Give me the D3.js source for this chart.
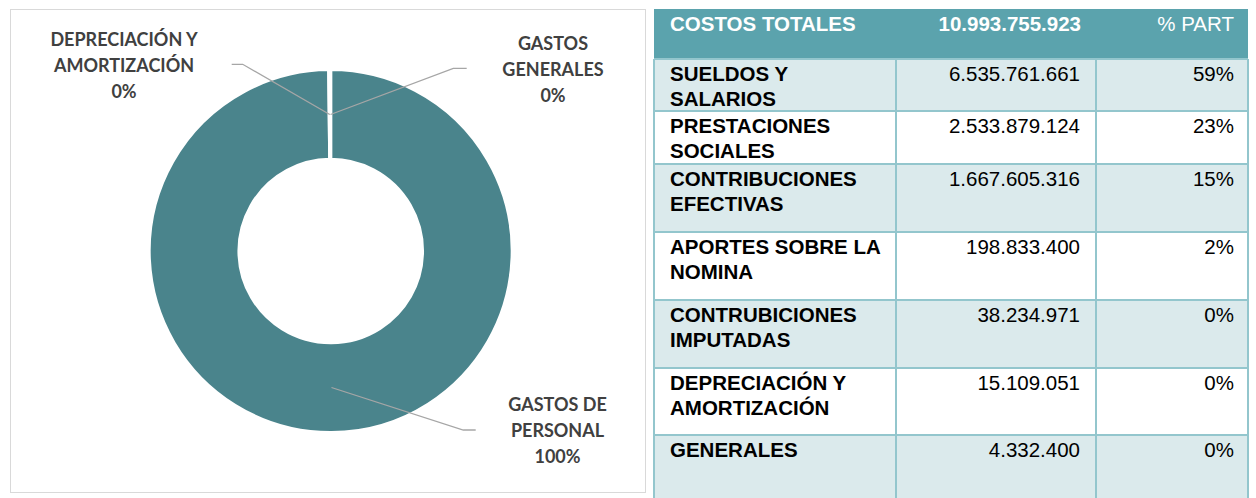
<!DOCTYPE html>
<html>
<head>
<meta charset="utf-8">
<script src="https://cdn.jsdelivr.net/npm/d3@7"></script>
<style>
  body { margin: 0; background: #fff; }
</style>
</head>
<body>
<svg id="chart" width="1256" height="498"></svg>
<script>
// donut data
const donutCategories = ["GASTOS DE PERSONAL", "DEPRECIACIÓN Y AMORTIZACIÓN", "GASTOS GENERALES"];
const donutLabelLines = [["GASTOS DE", "PERSONAL"], ["DEPRECIACIÓN Y", "AMORTIZACIÓN"], ["GASTOS", "GENERALES"]];
const donutValues = [10974314472, 15109051, 4332400];

// table data
const tableHeader = ["COSTOS TOTALES", "% PART"];
const costLabelLines = [
  ["SUELDOS Y", "SALARIOS"],
  ["PRESTACIONES", "SOCIALES"],
  ["CONTRIBUCIONES", "EFECTIVAS"],
  ["APORTES SOBRE LA", "NOMINA"],
  ["CONTRUBICIONES", "IMPUTADAS"],
  ["DEPRECIACIÓN Y", "AMORTIZACIÓN"],
  ["GENERALES"]
];
const costValues = [6535761661, 2533879124, 1667605316, 198833400, 38234971, 15109051, 4332400];

const svg = d3.select("#chart");

// es-CO style numbers: 10.993.755.923
const loc = d3.formatLocale({ decimal: ",", thousands: ".", grouping: [3], currency: ["$", ""] });
const fmtNum = loc.format(",d");
const fmtPct = v => Math.round(v * 100) + "%";

// ---------------- donut ----------------
const teal = "#4a848c";
svg.append("rect")
  .attr("x", 10.5).attr("y", 9.5)
  .attr("width", 635).attr("height", 483)
  .attr("fill", "#fff")
  .attr("stroke", "#d9d9d9")
  .attr("stroke-width", 1);

const cx = 330.7, cy = 251;
const outerR = 181.5, innerR = 91.8;

const donutData = donutCategories.map((c, i) => ({ key: c, lines: donutLabelLines[i], value: donutValues[i] }));
const donutTotal = d3.sum(donutValues);

const pie = d3.pie().sort(null).value(d => d.value);
const arc = d3.arc().innerRadius(innerR).outerRadius(outerR);
const midArc = d3.arc().innerRadius(136.5).outerRadius(136.5);

const g = svg.append("g").attr("transform", `translate(${cx},${cy})`);
const slices = pie(donutData);

g.selectAll(".slice")
  .data(slices)
  .join("path")
  .attr("class", "slice")
  .attr("d", arc)
  .attr("fill", teal)
  .attr("stroke", "#fff")
  .attr("stroke-width", 3);

// label placement relative to centre (elbow x, y, end x, text centre x, first baseline)
const labelPos = {
  "GASTOS DE PERSONAL": { ex: 132.6, ey: 179, tx: 145, cx: 226.8, by: 160 },
  "DEPRECIACIÓN Y AMORTIZACIÓN": { ex: -88, ey: -186.7, tx: -99, cx: -206.7, by: -205 },
  "GASTOS GENERALES": { ex: 122.6, ey: -182.7, tx: 136, cx: 222.3, by: -201 }
};
const lineH = 26;

const line = d3.line();
g.selectAll(".leader")
  .data(slices)
  .join("path")
  .attr("class", "leader")
  .attr("fill", "none")
  .attr("stroke", "#a6a6a6")
  .attr("stroke-width", 1.3)
  .attr("d", d => {
    const p = labelPos[d.data.key];
    const c = midArc.centroid(d);
    return line([c, [p.ex, p.ey], [p.tx, p.ey]]);
  });

const labels = g.selectAll(".dlabel")
  .data(slices)
  .join("text")
  .attr("class", "dlabel")
  .attr("text-anchor", "middle")
  .attr("font-family", "Lato, 'Open Sans', sans-serif")
  .attr("font-weight", "bold")
  .attr("font-size", 18)
  .attr("fill", "#404040");

labels.selectAll("tspan")
  .data(d => {
    const p = labelPos[d.data.key];
    const rows = d.data.lines.concat([fmtPct(d.data.value / donutTotal)]);
    return rows.map((t, i) => ({ t, x: p.cx, y: p.by + i * lineH }));
  })
  .join("tspan")
  .attr("x", d => d.x)
  .attr("y", d => d.y)
  .text(d => d.t);

// ---------------- table ----------------
const headFill = "#5ba3ad";
const lightFill = "#dbeaec";
const borderCol = "#93c6cd";
const colX = [654, 896, 1096, 1248];
const rowTops = [9, 59, 111, 164, 232, 300, 368, 435, 498];
const baseOff = 22, tLineH = 24.5;
const tFont = "'Liberation Sans', Arial, sans-serif";
const total = d3.sum(costValues);

const tbl = svg.append("g");

tbl.append("rect")
  .attr("x", colX[0]).attr("y", rowTops[0])
  .attr("width", colX[3] - colX[0]).attr("height", rowTops[1] - rowTops[0])
  .attr("fill", headFill);

const rows = costValues.map((v, i) => ({ lines: costLabelLines[i], value: v, i }));

tbl.selectAll(".rowbg")
  .data(rows)
  .join("rect")
  .attr("class", "rowbg")
  .attr("x", colX[0])
  .attr("y", d => rowTops[d.i + 1])
  .attr("width", colX[3] - colX[0])
  .attr("height", d => rowTops[d.i + 2] - rowTops[d.i + 1])
  .attr("fill", d => d.i % 2 === 0 ? lightFill : "#fff");

// grid lines
tbl.selectAll(".hline")
  .data(rowTops.slice(1, -1))
  .join("line")
  .attr("class", "hline")
  .attr("x1", colX[0]).attr("x2", colX[3])
  .attr("y1", d => d).attr("y2", d => d)
  .attr("stroke", borderCol).attr("stroke-width", 2);

tbl.selectAll(".vline")
  .data(colX)
  .join("line")
  .attr("class", "vline")
  .attr("x1", d => d).attr("x2", d => d)
  .attr("y1", rowTops[1]).attr("y2", rowTops[rowTops.length - 1])
  .attr("stroke", borderCol).attr("stroke-width", 2);

// header text
const headY = rowTops[0] + baseOff;
tbl.append("text")
  .attr("x", 670).attr("y", headY)
  .attr("font-family", tFont).attr("font-weight", "bold").attr("font-size", 20.5)
  .attr("fill", "#fff")
  .text(tableHeader[0]);
tbl.append("text")
  .attr("x", 1081).attr("y", headY)
  .attr("text-anchor", "end")
  .attr("font-family", tFont).attr("font-weight", "bold").attr("font-size", 20.5)
  .attr("fill", "#fff")
  .text(fmtNum(total));
tbl.append("text")
  .attr("x", 1234).attr("y", headY)
  .attr("text-anchor", "end")
  .attr("font-family", tFont).attr("font-size", 20.5)
  .attr("fill", "#fff")
  .text(tableHeader[1]);

// body text
const rowG = tbl.selectAll(".rowtxt")
  .data(rows)
  .join("g")
  .attr("class", "rowtxt")
  .attr("transform", d => `translate(0,${rowTops[d.i + 1] + baseOff})`)
  .attr("font-family", tFont)
  .attr("font-size", 20.5)
  .attr("fill", "#000");

rowG.append("text")
  .attr("font-weight", "bold")
  .selectAll("tspan")
  .data(d => d.lines)
  .join("tspan")
  .attr("x", 670)
  .attr("y", (d, i) => i * tLineH)
  .text(d => d);

rowG.append("text")
  .attr("x", 1080).attr("text-anchor", "end")
  .text(d => fmtNum(d.value));

rowG.append("text")
  .attr("x", 1234).attr("text-anchor", "end")
  .text(d => fmtPct(d.value / total));
</script>
</body>
</html>
